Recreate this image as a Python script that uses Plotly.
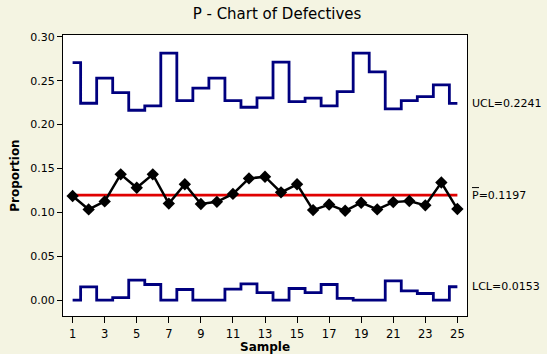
import plotly.graph_objects as go

samples = list(range(1, 26))
proportion = [0.1186, 0.1034, 0.1125, 0.1433, 0.1280, 0.1433, 0.1100, 0.1320, 0.1095, 0.1120,
              0.1210, 0.1387, 0.1406, 0.1228, 0.1320, 0.1026, 0.1090, 0.1018, 0.1110, 0.1034,
              0.1117, 0.1129, 0.1080, 0.1340, 0.1038]
ucl = [0.2706, 0.2243, 0.2528, 0.2364, 0.2163, 0.2212, 0.2813, 0.2273, 0.2414, 0.2528,
       0.2273, 0.2197, 0.2303, 0.2712, 0.2261, 0.2300, 0.2212, 0.2375, 0.2813, 0.2600,
       0.2178, 0.2273, 0.2318, 0.2451, 0.2241]
lcl = [0.0, 0.0152, 0.0, 0.0030, 0.0228, 0.0179, 0.0, 0.0122, 0.0, 0.0,
       0.0125, 0.0186, 0.0087, 0.0, 0.0133, 0.0087, 0.0179, 0.0020, 0.0, 0.0,
       0.0220, 0.0106, 0.0076, 0.0, 0.0153]
pbar = 0.1197
ucl_label = "UCL=0.2241"
pbar_label = "P=0.1197"
lcl_label = "LCL=0.0153"
y_ticks = [0.0, 0.05, 0.10, 0.15, 0.20, 0.25, 0.30]
x_ticks = list(range(1, 26, 2))

NAVY = "#00007f"
FONT = "DejaVu Sans"
PLOT_W = 547 - 63 - 80
Y_RANGE = [-0.018, 0.302]
PLOT_H = 354 - 35 - 38

fig = go.Figure()
fig.add_trace(go.Scatter(x=samples, y=ucl, mode="lines", line=dict(color=NAVY, width=2.8, shape="hvh"),
                         hoverinfo="skip"))
fig.add_trace(go.Scatter(x=samples, y=lcl, mode="lines", line=dict(color=NAVY, width=2.8, shape="hvh"),
                         hoverinfo="skip"))
fig.add_trace(go.Scatter(x=[samples[0], samples[-1]], y=[pbar, pbar], mode="lines",
                         line=dict(color="#e00000", width=2.8), hoverinfo="skip"))
fig.add_trace(go.Scatter(x=samples, y=proportion, mode="lines+markers",
                         line=dict(color="black", width=2.5),
                         marker=dict(symbol="diamond", size=9.5, color="black")))

for val, txt in [(ucl[-1], ucl_label), (pbar, pbar_label), (lcl[-1], lcl_label)]:
    fig.add_annotation(x=1, xref="paper", y=val, yref="y", text=txt, showarrow=False,
                       xanchor="left", xshift=3, yanchor="middle",
                       font=dict(family=FONT, size=11, color="black"))

# overline over the "P" of the centre-line label
per_px = (Y_RANGE[1] - Y_RANGE[0]) / PLOT_H
fig.add_shape(type="line", xref="paper", yref="y",
              x0=1 + 5 / PLOT_W, x1=1 + 12 / PLOT_W,
              y0=pbar + 7.5 * per_px, y1=pbar + 7.5 * per_px,
              line=dict(color="black", width=1))

# x-axis title
fig.add_annotation(x=0.5, xref="paper", y=-31 / PLOT_H, yref="paper", text="<b>Sample</b>",
                   showarrow=False, xanchor="center", yanchor="middle",
                   font=dict(family=FONT, size=12, color="black"))

fig.update_layout(
    width=547, height=354, autosize=False,
    margin=dict(l=63, r=80, t=35, b=38, pad=0, autoexpand=False),
    paper_bgcolor="#f4f4e2", plot_bgcolor="white",
    showlegend=False,
    font=dict(family=FONT, size=11, color="black"),
    title=dict(text="P - Chart of Defectives", x=277/547, xanchor="center", y=1 - 14/354, yanchor="middle",
               xref="container", yref="container", font=dict(family=FONT, size=15, color="black")),
)
fig.update_xaxes(range=[0.4, 25.6], tickvals=x_ticks, ticktext=[str(v) for v in x_ticks],
                 ticks="outside", ticklen=6, tickcolor="black", showgrid=False, zeroline=False,
                 showline=True, linecolor="black", linewidth=1, mirror=True, automargin=False,
                 tickfont=dict(size=11.5), ticklabelstandoff=1)
fig.update_yaxes(range=Y_RANGE, tickvals=y_ticks, ticktext=[f"{v:.2f}" for v in y_ticks],
                 ticks="outside", ticklen=5, tickcolor="black", showgrid=False, zeroline=False,
                 showline=True, linecolor="black", linewidth=1, mirror=True, automargin=False,
                 title=dict(text="<b>Proportion</b>", standoff=8, font=dict(family=FONT, size=12)))

fig.write_html("out.html")
